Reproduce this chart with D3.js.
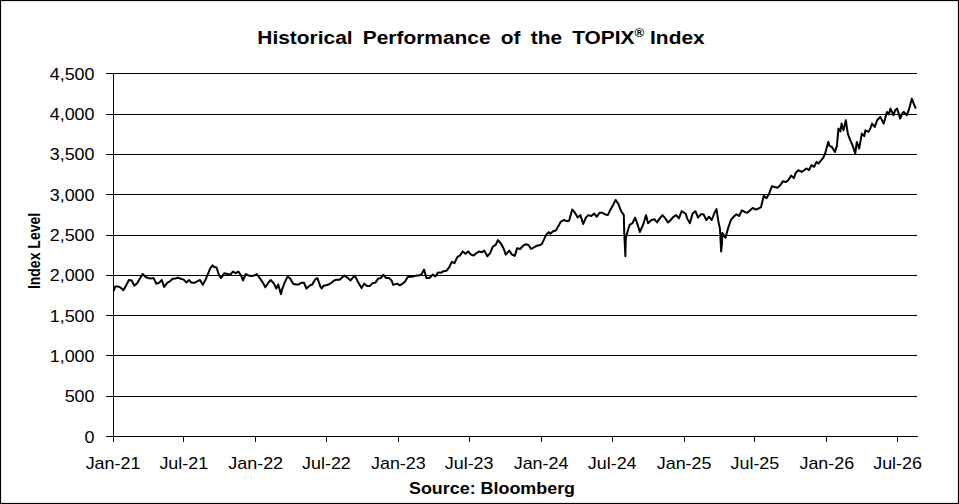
<!DOCTYPE html>
<html><head><meta charset="utf-8">
<script src="https://cdn.jsdelivr.net/npm/d3@7"></script>
<style>
body{margin:0;background:#fff}
svg{display:block}
text{font-family:"Liberation Sans",Arial,Helvetica,sans-serif;fill:#000}
</style>
</head><body>
<svg id="chart" width="959" height="504"></svg>
<script>
// ---- data ----
const yTicks = [0,500,1000,1500,2000,2500,3000,3500,4000,4500];
const xTickDates = ["2021-01-01","2021-07-01","2022-01-01","2022-07-01","2023-01-01","2023-07-01",
  "2024-01-01","2024-07-01","2025-01-01","2025-07-01","2026-01-01","2026-07-01"];
const titleMain = "Historical Performance of the TOPIX";
const titleMark = "\u00AE";
const titleEnd = " Index";
const yLabel = "Index Level";
const sourceText = "Source: Bloomberg";

const y2021 = [["2021-01-04",1800],["2021-01-08",1855],["2021-01-15",1856],["2021-01-22",1840],["2021-01-29",1808],
["2021-02-05",1870],["2021-02-12",1935],["2021-02-19",1930],["2021-02-26",1865],["2021-03-05",1895],["2021-03-12",1955],
["2021-03-19",2010],["2021-03-26",1975],["2021-04-02",1960],["2021-04-09",1955],["2021-04-16",1960],["2021-04-23",1890],
["2021-04-30",1900],["2021-05-07",1935],["2021-05-13",1850],["2021-05-21",1900],["2021-05-28",1920],["2021-06-04",1950],
["2021-06-11",1955],["2021-06-18",1965],["2021-06-25",1950],["2021-07-02",1940],["2021-07-09",1905],["2021-07-16",1935],
["2021-07-21",1905],["2021-07-30",1900],["2021-08-06",1920],["2021-08-13",1935],["2021-08-20",1875],["2021-08-27",1940],
["2021-09-03",2020],["2021-09-08",2080],["2021-09-14",2118],["2021-09-17",2100],["2021-09-24",2090],["2021-10-01",1990],
["2021-10-06",1960],["2021-10-14",2020],["2021-10-22",2010],["2021-10-29",2000],["2021-11-05",2040],["2021-11-12",2020],
["2021-11-19",2040],["2021-11-26",1990],["2021-12-01",1930],["2021-12-08",2010],["2021-12-15",1990],["2021-12-22",1985],
["2021-12-30",1992]];

const y2022 = [["2022-01-05",2010],["2022-01-14",1950],["2022-01-21",1900],["2022-01-27",1845],["2022-02-04",1905],
["2022-02-10",1935],["2022-02-18",1890],["2022-02-24",1830],["2022-03-01",1880],["2022-03-08",1760],["2022-03-11",1820],
["2022-03-17",1900],["2022-03-25",1980],["2022-04-01",1950],["2022-04-08",1890],["2022-04-15",1880],["2022-04-22",1880],
["2022-04-28",1900],["2022-05-06",1900],["2022-05-12",1830],["2022-05-20",1865],["2022-05-27",1880],["2022-06-03",1940],
["2022-06-09",1960],["2022-06-17",1850],["2022-06-20",1830],["2022-06-24",1860],["2022-07-01",1870],["2022-07-08",1880],
["2022-07-15",1900],["2022-07-22",1930],["2022-07-29",1940],["2022-08-05",1940],["2022-08-12",1970],["2022-08-17",1990],
["2022-08-26",1960],["2022-09-02",1930],["2022-09-09",1970],["2022-09-13",1990],["2022-09-21",1910],["2022-09-30",1835],
["2022-10-07",1890],["2022-10-14",1860],["2022-10-21",1860],["2022-10-28",1895],["2022-11-04",1900],["2022-11-11",1950],
["2022-11-18",1960],["2022-11-25",2000],["2022-12-02",1960],["2022-12-09",1960],["2022-12-16",1930],["2022-12-20",1875],
["2022-12-30",1891]];

const y2023 = [["2023-01-06",1870],["2023-01-13",1890],["2023-01-20",1920],["2023-01-27",1980],["2023-02-03",1975],
["2023-02-10",1980],["2023-02-17",1990],["2023-02-24",1990],["2023-03-03",2010],["2023-03-09",2065],["2023-03-15",1960],
["2023-03-23",1960],["2023-03-31",2003],["2023-04-07",1980],["2023-04-14",2030],["2023-04-21",2025],["2023-04-28",2045],
["2023-05-05",2050],["2023-05-12",2090],["2023-05-19",2160],["2023-05-26",2145],["2023-06-02",2220],["2023-06-09",2240],
["2023-06-16",2290],["2023-06-23",2260],["2023-06-30",2290],["2023-07-07",2250],["2023-07-14",2240],["2023-07-21",2270],
["2023-07-28",2290],["2023-08-04",2280],["2023-08-10",2300],["2023-08-18",2230],["2023-08-25",2270],["2023-09-01",2350],
["2023-09-08",2370],["2023-09-14",2430],["2023-09-22",2385],["2023-09-29",2320],["2023-10-04",2250],["2023-10-13",2300],
["2023-10-20",2250],["2023-10-27",2235],["2023-11-02",2330],["2023-11-10",2320],["2023-11-17",2360],["2023-11-24",2380],
["2023-12-01",2370],["2023-12-08",2320],["2023-12-15",2340],["2023-12-22",2360],["2023-12-29",2366]];

const y2024 = [["2024-01-04",2380],["2024-01-10",2440],["2024-01-15",2495],["2024-01-22",2530],["2024-01-26",2510],
["2024-02-02",2540],["2024-02-09",2550],["2024-02-16",2610],["2024-02-22",2660],["2024-03-01",2680],["2024-03-08",2665],
["2024-03-14",2670],["2024-03-22",2810],["2024-03-29",2770],["2024-04-05",2710],["2024-04-12",2740],["2024-04-19",2630],
["2024-04-26",2710],["2024-05-02",2740],["2024-05-10",2730],["2024-05-17",2760],["2024-05-24",2720],["2024-05-31",2770],
["2024-06-07",2770],["2024-06-14",2750],["2024-06-21",2740],["2024-06-28",2810],["2024-07-05",2870],["2024-07-11",2929],
["2024-07-18",2880],["2024-07-25",2790],["2024-08-01",2740],["2024-08-02",2530],["2024-08-05",2230],["2024-08-06",2450],
["2024-08-09",2510],["2024-08-16",2620],["2024-08-23",2640],["2024-08-30",2710],["2024-09-06",2610],["2024-09-11",2530],
["2024-09-20",2630],["2024-09-27",2740],["2024-10-02",2640],["2024-10-11",2680],["2024-10-18",2690],["2024-10-25",2650],
["2024-11-01",2700],["2024-11-08",2740],["2024-11-15",2700],["2024-11-22",2650],["2024-11-29",2680],["2024-12-06",2720],
["2024-12-13",2740],["2024-12-20",2700],["2024-12-27",2790]];

const y2025 = [["2025-01-06",2760],["2025-01-10",2700],["2025-01-17",2640],["2025-01-24",2760],["2025-01-31",2790],
["2025-02-07",2710],["2025-02-14",2750],["2025-02-21",2750],["2025-02-28",2680],["2025-03-07",2720],["2025-03-14",2680],
["2025-03-21",2770],["2025-03-26",2815],["2025-03-31",2660],["2025-04-04",2570],["2025-04-07",2290],["2025-04-09",2380],
["2025-04-10",2520],["2025-04-18",2460],["2025-04-25",2580],["2025-05-02",2680],["2025-05-09",2720],["2025-05-16",2750],
["2025-05-23",2730],["2025-05-30",2800],["2025-06-06",2780],["2025-06-13",2770],["2025-06-20",2800],["2025-06-27",2830],
["2025-07-04",2810],["2025-07-11",2820],["2025-07-18",2840],["2025-07-23",2940],["2025-07-25",2980],["2025-08-01",2950],
["2025-08-08",3010],["2025-08-15",3100],["2025-08-22",3090],["2025-08-29",3080],["2025-09-05",3110],["2025-09-12",3160],
["2025-09-19",3150],["2025-09-26",3175],["2025-10-03",3230],["2025-10-10",3200],["2025-10-14",3257],["2025-10-21",3298],
["2025-10-30",3277],["2025-11-06",3300],["2025-11-11",3319],["2025-11-18",3300],["2025-11-24",3360],["2025-12-01",3340],
["2025-12-07",3401],["2025-12-12",3380],["2025-12-19",3422],["2025-12-24",3450],["2025-12-29",3505]];

const y2026 = [["2026-01-06",3649],["2026-01-09",3600],["2026-01-15",3587],["2026-01-23",3525],["2026-01-28",3600],
["2026-02-01",3814],["2026-02-06",3780],["2026-02-09",3876],["2026-02-14",3793],["2026-02-20",3917],["2026-02-25",3752],
["2026-03-03",3670],["2026-03-09",3608],["2026-03-16",3505],["2026-03-20",3649],["2026-03-26",3566],["2026-04-02",3752],
["2026-04-08",3720],["2026-04-11",3793],["2026-04-19",3773],["2026-04-24",3820],["2026-04-28",3876],["2026-05-05",3835],
["2026-05-11",3917],["2026-05-19",3959],["2026-05-28",3876],["2026-06-01",3950],["2026-06-05",4021],["2026-06-10",3990],
["2026-06-14",4062],["2026-06-22",3979],["2026-06-26",4040],["2026-07-01",4062],["2026-07-09",3938],["2026-07-14",4000],
["2026-07-18",4021],["2026-07-26",3979],["2026-08-01",4062],["2026-08-08",4186],["2026-08-12",4130],["2026-08-18",4062]];

// ---- chart ----
const parse = d3.timeParse("%Y-%m-%d");
const series = [].concat(y2021,y2022,y2023,y2024,y2025,y2026).map(([d,v]) => ({date: parse(d), value: v}));

const svg = d3.select("#chart");
const SX = 1.12; // horizontal text stretch of the reference rendering
const plotL = 112.5, plotR = 917, plotT = 73.3, plotB = 436;

const x = d3.scaleTime().domain([parse("2021-01-01"), parse("2026-08-21")]).range([plotL, plotR]);
const y = d3.scaleLinear().domain([0, 4500]).range([plotB, plotT]);

svg.append("rect").attr("x",0.5).attr("y",0.5).attr("width",958).attr("height",503)
  .attr("fill","#fff").attr("stroke","#000").attr("stroke-width",1.2);

// gridlines
svg.append("g").selectAll("line").data(yTicks.filter(v => v > 0)).join("line")
  .attr("x1", plotL).attr("x2", plotR)
  .attr("y1", d => Math.round(y(d)) + 0.5).attr("y2", d => Math.round(y(d)) + 0.5)
  .attr("stroke", "#000").attr("stroke-width", 1).attr("shape-rendering","crispEdges");

// y axis
const gy = svg.append("g").attr("transform", `translate(${plotL},0)`)
  .call(d3.axisLeft(y).tickValues(yTicks).tickFormat(d3.format(",")).tickSize(7).tickSizeOuter(0));
gy.select(".domain").attr("stroke","#000").attr("shape-rendering","crispEdges");
gy.selectAll(".tick line").attr("stroke","#000").attr("shape-rendering","crispEdges");
gy.selectAll(".tick text").attr("x", null).attr("dy", null)
  .attr("transform", `translate(-18,6) scale(${SX},1)`)
  .attr("text-anchor","end").style("font-size","16px");

// x axis
const gx = svg.append("g").attr("transform", `translate(0,${plotB})`)
  .call(d3.axisBottom(x).tickValues(xTickDates.map(parse)).tickFormat(d3.timeFormat("%b-%y")).tickSize(6).tickSizeOuter(0));
gx.select(".domain").attr("stroke","#000").attr("shape-rendering","crispEdges");
gx.selectAll(".tick line").attr("stroke","#000").attr("shape-rendering","crispEdges");
gx.selectAll(".tick text").attr("y", null).attr("dy", null)
  .attr("transform", `translate(0,33) scale(${SX},1)`)
  .attr("text-anchor","middle").style("font-size","16px");
svg.selectAll(".domain, .tick line").attr("stroke-width", 1);
svg.selectAll("g").attr("font-family", null).attr("font-size", null);

// line
svg.append("path").datum(series)
  .attr("fill","none").attr("stroke","#000").attr("stroke-width",2).attr("stroke-linejoin","round")
  .attr("d", d3.line().x(d => x(d.date)).y(d => y(d.value)));

// title
const t = svg.append("text").attr("transform", `translate(481,44) scale(1.1,1)`)
  .attr("text-anchor","middle").style("font-size","19px").style("font-weight","bold");
t.append("tspan").style("word-spacing","4px").text(titleMain);
t.append("tspan").attr("dy",-7).style("font-size","12px").text(titleMark);
t.append("tspan").attr("dy",7).text(titleEnd);

// y label
svg.append("text").attr("transform", `translate(40,251) scale(${SX},1) rotate(-90)`)
  .attr("text-anchor","middle").style("font-size","14px").style("font-weight","bold").text(yLabel);

// source
svg.append("text").attr("transform", `translate(492,494) scale(${SX},1)`)
  .attr("text-anchor","middle").style("font-size","16px").style("font-weight","bold").text(sourceText);
</script>
</body></html>
